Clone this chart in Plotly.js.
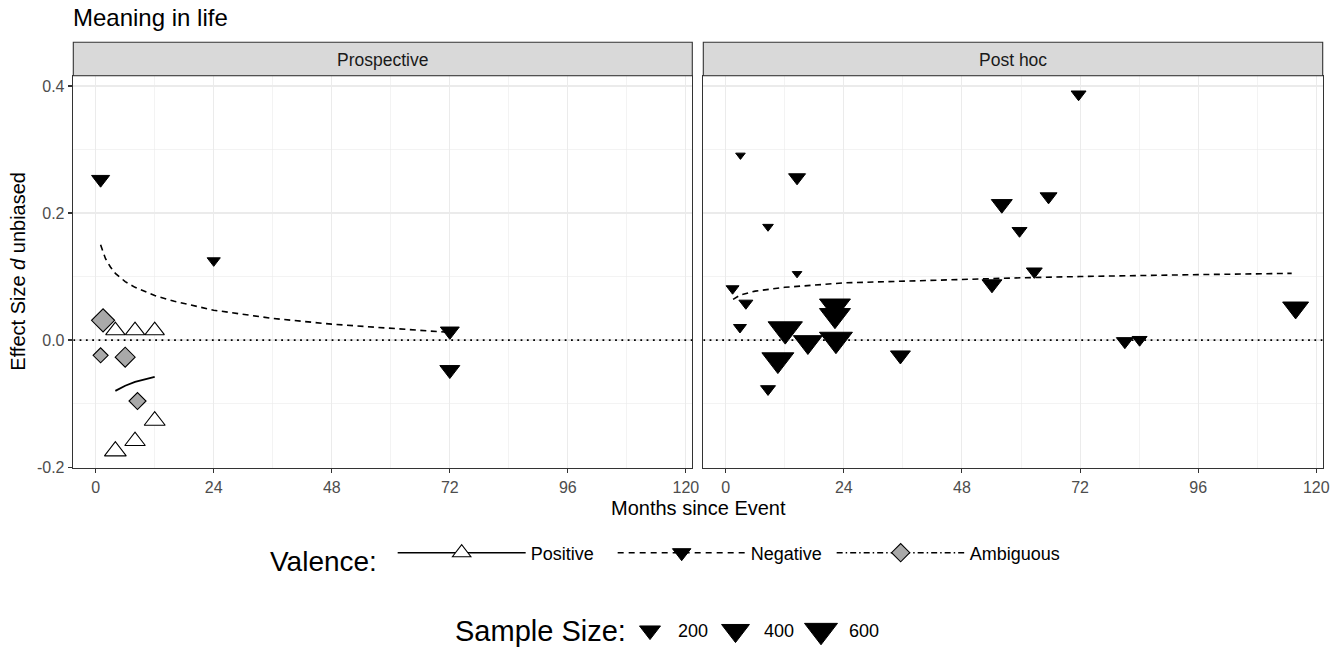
<!DOCTYPE html>
<html>
<head>
<meta charset="utf-8">
<script src="https://cdn.plot.ly/plotly-3.0.1.min.js"></script>
<style>html,body{margin:0;padding:0;background:#fff;}#chart{width:1341px;height:649px;}</style>
</head>
<body>
<div id="chart"></div>
<script>
// ---------- Data ----------
const panelNames = ["Prospective", "Post hoc"];
const valenceNames = ["Positive", "Negative", "Ambiguous"];

// Prospective panel
const negMonthsL = [1.2, 1, 24, 72, 72];
const negEffectL = [0.025, 0.253, 0.125, 0.014, -0.047];
const negNL      = [60, 140, 70, 157, 178];

const posMonthsL = [4, 8, 12, 4, 8, 12];
const posEffectL = [0.015, 0.015, 0.015, -0.175, -0.159, -0.127];
const posNL      = [165, 165, 165, 220, 190, 200];

const ambMonthsL = [1.5, 1, 6, 8.5];
const ambEffectL = [0.031, -0.024, -0.027, -0.096];
const ambNL      = [300, 107, 212, 144];

const negFitMonthsL = [1, 2, 3, 4, 6, 8, 12, 16, 24, 36, 48, 60, 72];
const negFitL       = [0.150, 0.128, 0.115, 0.105, 0.092, 0.083, 0.070, 0.061, 0.047, 0.034, 0.025, 0.018, 0.012];

const posFitMonthsL = [4, 6, 8, 10, 12];
const posFitL       = [-0.080, -0.072, -0.066, -0.062, -0.058];

// Post hoc panel
const negMonthsR = [3, 14.5, 8.6, 14.5, 1.4, 4.1, 2.9, 8.6, 12.1, 10.6, 16.7, 22.2, 22.2, 22.4, 35.5, 56.1, 59.7, 65.6, 62.7, 54.1, 71.7, 81.1, 84.1, 115.8];
const negEffectR = [0.291, 0.256, 0.1785, 0.1045, 0.081, 0.058, 0.020, -0.077, 0.017, -0.031, -0.003, 0.054, 0.039, 0.001, -0.024, 0.214, 0.172, 0.226, 0.108, 0.088, 0.387, -0.002, 0.0005, 0.051];
const negNR      = [45, 121, 50, 45, 68, 79, 68, 91, 660, 557, 440, 516, 516, 600, 178, 200, 91, 121, 105, 178, 91, 121, 91, 337];

const negFitMonthsR = [1.5, 3, 6, 12, 24, 36, 48, 60, 72, 84, 96, 115];
const negFitR       = [0.064, 0.071, 0.077, 0.083, 0.090, 0.093, 0.096, 0.098, 0.100, 0.102, 0.103, 0.105];

// Sample size legend breaks
const sizeBreaks = [200, 400, 600];
const sizeLabels = ["200", "400", "600"];

// Axis ticks
const xTickVals = [0, 24, 48, 72, 96, 120];
const yTickVals = [-0.2, 0.0, 0.2, 0.4];
const yTickText = ["-0.2", "0.0", "0.2", "0.4"];

// ---------- Styling helpers ----------
const W = 1341, H = 649;
const FONT = '"Liberation Sans", Arial, Helvetica, sans-serif';
function px(x){ return x / W; }
function py(y){ return (H - y) / H; }
// ggplot-like area scale for sample size -> symbol width (px)
function symWidth(n){ return 7.2 + 1.09 * Math.sqrt(Math.max(n - 40, 0)); }
function triSize(n){ return symWidth(n) / 1.155; }
function diaSize(n){ return 0.93 * symWidth(n) / 1.3; }

const NEG_COLOR = '#000000', POS_FILL = '#ffffff', AMB_FILL = '#a9a9a9';

const leftDom  = [px(73.3), px(692.3)];
const rightDom = [px(703.3), px(1322.7)];
const yDom = [py(467.7), py(75.7)];
const xRange = [-4.55, 121.3];
const yRange = [-0.201, 0.4162];

const traces = [
  // fitted lines
  {x: negFitMonthsL, y: negFitL, xaxis: 'x', yaxis: 'y', mode: 'lines', showlegend: false,
   line: {color: '#000', width: 1.6, dash: '6px,4.5px'}, hoverinfo: 'skip'},
  {x: posFitMonthsL, y: posFitL, xaxis: 'x', yaxis: 'y', mode: 'lines', showlegend: false,
   line: {color: '#000', width: 1.8}, hoverinfo: 'skip'},
  {x: negFitMonthsR, y: negFitR, xaxis: 'x2', yaxis: 'y2', mode: 'lines', showlegend: false,
   line: {color: '#000', width: 1.6, dash: '6px,4.5px'}, hoverinfo: 'skip'},
  // points
  {x: negMonthsL, y: negEffectL, xaxis: 'x', yaxis: 'y', mode: 'markers', showlegend: false,
   marker: {symbol: 'triangle-down', color: NEG_COLOR, opacity: 1, size: negNL.map(triSize), line: {color: '#000', width: 1}}},
  {x: posMonthsL, y: posEffectL, xaxis: 'x', yaxis: 'y', mode: 'markers', showlegend: false,
   marker: {symbol: 'triangle-up', color: POS_FILL, opacity: 1, size: posNL.map(triSize), line: {color: '#000', width: 1.1}}},
  {x: ambMonthsL, y: ambEffectL, xaxis: 'x', yaxis: 'y', mode: 'markers', showlegend: false,
   marker: {symbol: 'diamond', color: AMB_FILL, opacity: 1, size: ambNL.map(diaSize), line: {color: '#000', width: 1.1}}},
  {x: negMonthsR, y: negEffectR, xaxis: 'x2', yaxis: 'y2', mode: 'markers', showlegend: false,
   marker: {symbol: 'triangle-down', color: NEG_COLOR, opacity: 1, size: negNR.map(triSize), line: {color: '#000', width: 1}}},
  // Valence legend entries
  {x: [null], y: [null], xaxis: 'x', yaxis: 'y', mode: 'lines+markers', name: valenceNames[0], showlegend: true, legendwidth: 77,
   line: {color: '#000', width: 1.6}, marker: {symbol: 'triangle-up', color: POS_FILL, opacity: 1, size: 16, line: {color: '#000', width: 1.1}}},
  {x: [null], y: [null], xaxis: 'x', yaxis: 'y', mode: 'lines+markers', name: valenceNames[1], showlegend: true, legendwidth: 76,
   line: {color: '#000', width: 1.6, dash: '6px,5px'}, marker: {symbol: 'triangle-down', color: NEG_COLOR, opacity: 1, size: 16, line: {color: '#000', width: 1}}},
  {x: [null], y: [null], xaxis: 'x', yaxis: 'y', mode: 'lines+markers', name: valenceNames[2], showlegend: true, legendwidth: 100,
   line: {color: '#000', width: 1.6, dash: '6px,3px,1.5px,3px'}, marker: {symbol: 'diamond', color: AMB_FILL, opacity: 1, size: 14, line: {color: '#000', width: 1.1}}},
  // Sample size legend (own hidden axes)
  {x: sizeLabels, y: sizeBreaks.map(() => 0), xaxis: 'x3', yaxis: 'y3', mode: 'markers', showlegend: false,
   marker: {symbol: 'triangle-down', color: '#000', opacity: 1, size: sizeBreaks.map(triSize), line: {color: '#000', width: 1}}, hoverinfo: 'skip'}
];

const axisCommon = {
  range: xRange, tickmode: 'array', tickvals: xTickVals, ticks: 'outside', ticklen: 4.5, tickwidth: 1.1, tickcolor: '#333333',
  showline: true, mirror: true, linecolor: '#333333', linewidth: 1.1,
  showgrid: true, gridcolor: '#EBEBEB', gridwidth: 1.1, zeroline: false,
  minor: {tickmode: 'array', tickvals: [12, 36, 60, 84, 108], showgrid: true, gridcolor: '#EBEBEB', gridwidth: 0.6, ticks: ''},
  tickfont: {family: FONT, size: 16, color: '#4D4D4D'}, fixedrange: true
};
const yCommon = {
  range: yRange, tickmode: 'array', tickvals: yTickVals, ticktext: yTickText, ticks: 'outside', ticklen: 4.5, tickwidth: 1.1, tickcolor: '#333333',
  showline: true, mirror: true, linecolor: '#333333', linewidth: 1.1,
  showgrid: true, gridcolor: '#EBEBEB', gridwidth: 1.1, zeroline: false,
  minor: {tickmode: 'array', tickvals: [-0.1, 0.1, 0.3], showgrid: true, gridcolor: '#EBEBEB', gridwidth: 0.6, ticks: ''},
  tickfont: {family: FONT, size: 16, color: '#4D4D4D'}, fixedrange: true, domain: yDom
};

const shapes = [];
const annotations = [];
[leftDom, rightDom].forEach((dom, i) => {
  shapes.push({type: 'rect', xref: 'paper', yref: 'paper', x0: dom[0], x1: dom[1], y0: py(75.7), y1: py(42.3),
               fillcolor: '#D9D9D9', line: {color: '#333333', width: 1.1}, layer: 'above'});
  annotations.push({xref: 'paper', yref: 'paper', x: (dom[0] + dom[1]) / 2, y: py(59.5), text: panelNames[i],
                    showarrow: false, xanchor: 'center', yanchor: 'middle', font: {family: FONT, size: 17.5, color: '#1A1A1A'}});
});
// zero reference line (dotted) in each panel
['x', 'x2'].forEach((ax, i) => {
  const ay = i === 0 ? 'y' : 'y2';
  shapes.push({type: 'line', xref: ax, yref: ay, x0: xRange[0], x1: xRange[1], y0: 0, y1: 0,
               line: {color: '#000', width: 1.8, dash: '1.8px,4.5px'}, layer: 'above'});
});
annotations.push({xref: 'paper', yref: 'paper', x: px(698), y: py(508), text: 'Months since Event', showarrow: false,
                  xanchor: 'center', yanchor: 'middle', font: {family: FONT, size: 20, color: '#000'}});
annotations.push({xref: 'paper', yref: 'paper', x: px(18), y: py(271.7), text: 'Effect Size <i>d</i> unbiased', showarrow: false,
                  textangle: -90, xanchor: 'center', yanchor: 'middle', font: {family: FONT, size: 20, color: '#000'}});
annotations.push({xref: 'paper', yref: 'paper', x: px(628), y: py(631), text: 'Sample Size:', showarrow: false,
                  xanchor: 'right', yanchor: 'middle', font: {family: FONT, size: 29, color: '#000'}});
sizeLabels.forEach((lab, i) => {
  annotations.push({xref: 'x3', yref: 'y3', x: i, y: 0, text: lab, showarrow: false, xanchor: 'left', yanchor: 'middle',
                    xshift: 26, font: {family: FONT, size: 18, color: '#000'}});
});

const layout = {
  width: W, height: H, margin: {l: 0, r: 0, t: 0, b: 0, pad: 0},
  paper_bgcolor: '#fff', plot_bgcolor: '#fff',
  font: {family: FONT, color: '#000'},
  title: {text: 'Meaning in life', x: px(73), xref: 'paper', xanchor: 'left', y: py(18), yref: 'container', yanchor: 'middle',
          font: {family: FONT, size: 24, color: '#000'}},
  xaxis: Object.assign({}, axisCommon, {domain: leftDom, anchor: 'y'}),
  yaxis: Object.assign({}, yCommon, {anchor: 'x'}),
  xaxis2: Object.assign({}, axisCommon, {domain: rightDom, anchor: 'y2'}),
  yaxis2: Object.assign({}, yCommon, {anchor: 'x2', showticklabels: false, ticks: ''}),
  xaxis3: {domain: [px(607.25), px(863.75)], type: 'category', categoryarray: sizeLabels, range: [-0.5, 2.5], visible: false, anchor: 'y3', fixedrange: true},
  yaxis3: {domain: [py(652), py(612)], range: [-1, 1], visible: false, anchor: 'x3', fixedrange: true},
  showlegend: true,
  legend: {orientation: 'h', x: px(268), xanchor: 'left', y: py(558), yanchor: 'middle', itemwidth: 128, itemsizing: 'trace',
           bgcolor: 'rgba(0,0,0,0)', borderwidth: 0, font: {family: FONT, size: 18, color: '#000'},
           title: {text: 'Valence:&nbsp;', side: 'left', font: {family: FONT, size: 28, color: '#000'}},
           traceorder: 'normal', itemclick: false, itemdoubleclick: false},
  shapes: shapes,
  annotations: annotations
};

Plotly.newPlot('chart', traces, layout, {displayModeBar: false, staticPlot: true});
</script>
</body>
</html>
